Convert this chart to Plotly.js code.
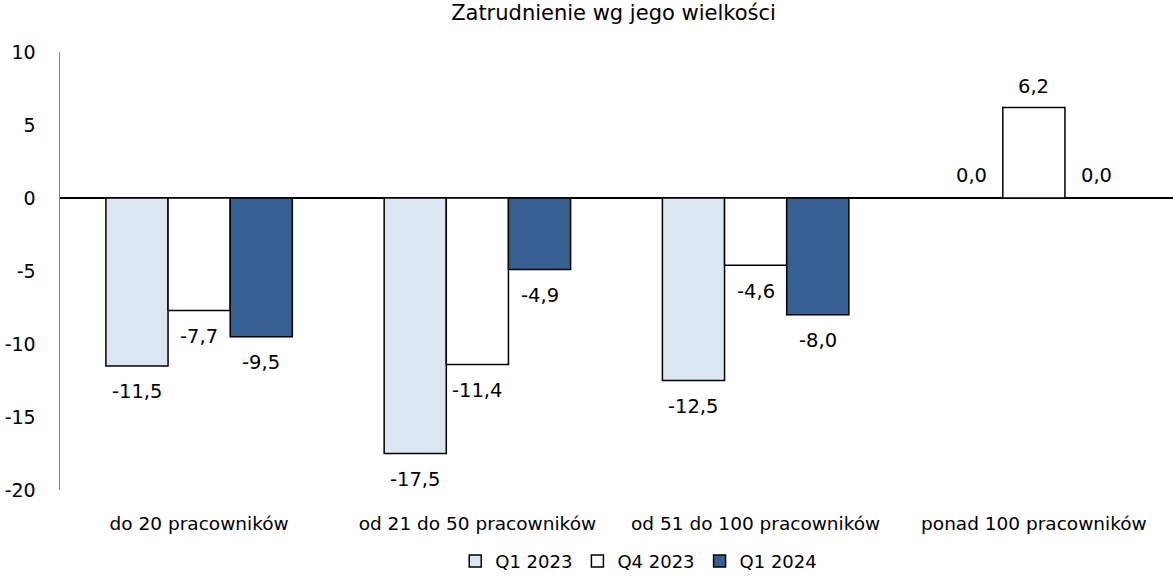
<!DOCTYPE html>
<html><head><meta charset="utf-8">
<script src="https://cdn.plot.ly/plotly-3.0.1.min.js"></script>
<style>html,body{margin:0;padding:0;background:#fff}</style>
</head><body>
<div id="chart" style="width:1173px;height:578px"></div>
<script>
const categories = ["do 20 pracowników", "od 21 do 50 pracowników", "od 51 do 100 pracowników", "ponad 100 pracowników"];
const seriesNames = ["Q1 2023", "Q4 2023", "Q1 2024"];
const q1_2023 = [-11.5, -17.5, -12.5, 0.0];
const q4_2023 = [-7.7, -11.4, -4.6, 6.2];
const q1_2024 = [-9.5, -4.9, -8.0, 0.0];
const yTicks = [-20, -15, -10, -5, 0, 5, 10];

const FONT = "DejaVu Sans, Verdana, sans-serif";
const fills = ["#dce6f2", "#ffffff", "#376092"];
const fmt = v => v.toFixed(1).replace(".", ",");
const series = [q1_2023, q4_2023, q1_2024];

const W = 1173, H = 578, ML = 60, MR = 0, MT = 52, MB = 88;
const BARGAP = 0.33;
const catPx = (W - ML - MR) / categories.length;
const barPx = catPx * (1 - BARGAP) / series.length;

const traces = series.map((vals, i) => ({
  type: "bar",
  name: seriesNames[i],
  x: categories,
  y: vals,
  marker: {color: fills[i], line: {color: "#000", width: 1.5}},
  hoverinfo: "skip"
}));

const annotations = [];
series.forEach((vals, i) => {
  vals.forEach((v, j) => {
    const neg = v < 0;
    const zeroVal = v === 0;
    annotations.push({
      x: categories[j], y: v, xref: "x", yref: "y",
      text: fmt(v), showarrow: false,
      xshift: (i - 1) * barPx,
      yshift: neg ? -26 : (zeroVal ? 23 : 21),
      font: {family: FONT, size: 19.5, color: "#000"}
    });
  });
});

const layout = {
  width: W, height: H,
  margin: {l: ML, r: MR, t: MT, b: MB},
  paper_bgcolor: "#fff", plot_bgcolor: "#fff",
  font: {family: FONT, size: 19, color: "#000"},
  title: {text: "Zatrudnienie wg jego wielkości", x: 0.523, xanchor: "center", y: 0.99, yanchor: "top",
          font: {family: FONT, size: 21, color: "#000"}},
  barmode: "group",
  bargap: BARGAP,
  bargroupgap: 0,
  showlegend: true,
  legend: {orientation: "h", x: 0.52, xanchor: "center", yref: "container", y: 0.029, yanchor: "middle",
           font: {family: FONT, size: 18, color: "#000"}},
  annotations: annotations,
  xaxis: {
    showline: false, showgrid: false, zeroline: false, ticks: "",
    ticklabelstandoff: 20, automargin: false,
    tickfont: {family: FONT, size: 18.5, color: "#000"}
  },
  yaxis: {
    range: [-20, 10], tickvals: yTicks, ticktext: yTicks.map(String),
    showgrid: false, showline: true, linecolor: "#888", linewidth: 1.5,
    zeroline: true, zerolinecolor: "#000", zerolinewidth: 1.2,
    ticks: "", ticklabelstandoff: 19, automargin: false,
    tickfont: {family: FONT, size: 19, color: "#000"}
  }
};

Plotly.newPlot("chart", traces, layout, {displayModeBar: false, staticPlot: true});
</script>
</body></html>
